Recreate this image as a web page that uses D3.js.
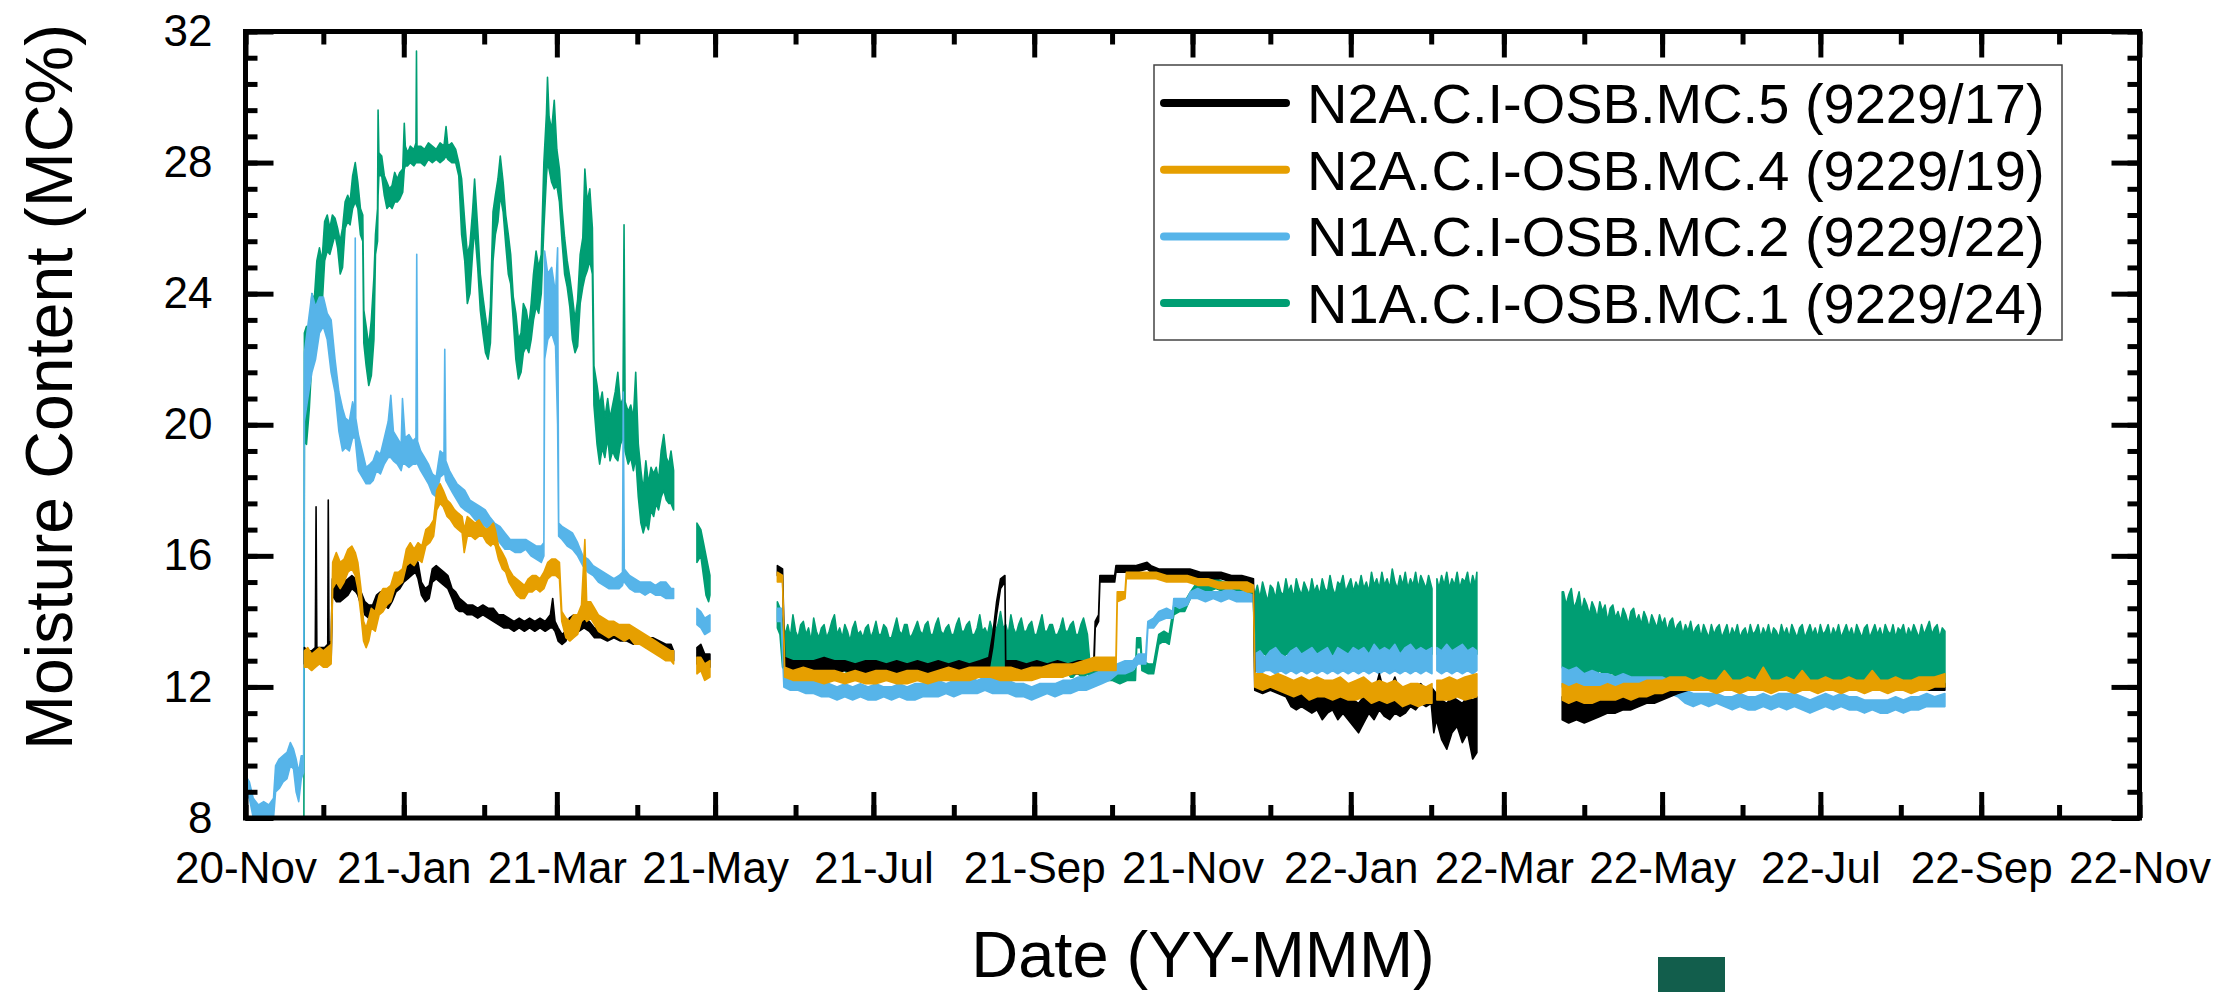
<!DOCTYPE html>
<html>
<head>
<meta charset="utf-8">
<script src="https://cdn.jsdelivr.net/npm/d3@7"></script>
<style>
  body { margin: 0; background: #fff; }
  text { font-family: "Liberation Sans", Arial, sans-serif; fill: #000; }
</style>
</head>
<body>
<svg id="chart" width="2238" height="992"></svg>
<script>
// every row: [days since startDate, low, high] (the min/max band of the logger trace)
// null = gap in the record
var startDate = "2020-11-01";
var endDate = "2022-11-01";

var seriesNames = [
  "N2A.C.I-OSB.MC.5 (9229/17)",
  "N2A.C.I-OSB.MC.4 (9229/19)",
  "N1A.C.I-OSB.MC.2 (9229/22)",
  "N1A.C.I-OSB.MC.1 (9229/24)"
];
var seriesColors = ["#000000", "#E69F00", "#56B4E9", "#009E73"];
var yTicks = [8, 12, 16, 20, 24, 28, 32];

var mc5 = [
  [22.7,12.7,13.2],[24,12.7,13.1],[25.5,12.6,13.1],[26.9,12.7,13.2],[27.2,12.8,17.5],[27.5,12.8,13.2],
  [29,12.7,13.2],[30.5,12.7,13.2],[31.7,12.8,13.3],[31.9,12.8,17.7],[32.2,12.8,13.3],[33,12.8,13.4],
  [33.5,14.8,15.3],[35,14.6,15.2],[36.5,14.6,15.0],[38,14.7,15.2],[39.5,14.8,15.3],[41,15.0,15.4],
  [42.5,14.9,15.3],[43.3,14.8,15.2],[44.5,14.5,14.9],[46,14.2,14.6],[47.5,14.1,14.5],[49,14.1,14.5],
  [50.5,14.3,14.8],[52,14.4,14.9],[53.5,14.5,14.9],[55,14.4,14.8],[56.5,14.6,15.0],[58,14.9,15.4],
  [59.5,15.0,15.5],[61,15.2,15.6],[62.5,15.3,15.7],[64,15.4,15.8],[65.5,15.5,15.9],[66.5,15.3,15.8],
  [67.8,14.8,15.2],[69.3,14.6,15.0],[70.8,14.7,15.1],[72,15.2,15.6],[73.5,15.3,15.7],[75,15.2,15.6],
  [76.5,15.1,15.5],[78,15.0,15.4],[79.6,14.7,15.0],[81,14.4,14.9],[82.5,14.3,14.7],[84,14.3,14.6],
  [85.5,14.2,14.5],[87.5,14.2,14.5],[89.5,14.1,14.4],[91.5,14.2,14.5],[93.5,14.1,14.4],[95.5,14.0,14.4],
  [97.5,13.9,14.2],[99.5,13.8,14.2],[101.5,13.8,14.1],[103.5,13.7,14.0],[105.5,13.8,14.1],[107.5,13.7,14.0],
  [109.5,13.8,14.1],[111.5,13.7,14.0],[113.5,13.8,14.1],[115.5,13.7,14.0],[117.5,13.8,14.2],[118.4,13.8,14.7],
  [119.3,13.7,14.0],[120.5,13.4,13.8],[122,13.3,13.6],[123.5,13.4,13.7],[124.8,13.7,14.1],[126.5,13.8,14.2],
  [128.5,13.7,14.1],[130.5,13.8,14.1],[132.5,13.7,14.0],[134.5,13.5,13.8],[137,13.5,13.8],[139.5,13.4,13.7],
  [142,13.5,13.8],[144.5,13.4,13.7],[147,13.4,13.7],[149.5,13.3,13.7],[152,13.4,13.6],[154.5,13.2,13.5],
  [157,13.1,13.5],[159.5,13.1,13.4],[162,13.0,13.3],[164,12.9,13.3],[165,12.8,13.1],
  null,
  [174,12.7,13.2],[175.5,12.8,13.3],[177,12.6,13.0],[179,12.6,13.0],
  null,
  [205,15.4,15.7],[207,15.3,15.6],[207.8,12.6,12.9],[211,12.5,12.8],[215,12.5,12.8],[219,12.5,12.8],
  [223,12.5,12.9],[227,12.4,12.8],[231,12.5,12.8],[235,12.4,12.7],[239,12.4,12.8],[243,12.5,12.8],
  [247,12.4,12.7],[251,12.4,12.8],[255,12.4,12.7],[259,12.4,12.8],[263,12.4,12.7],[267,12.4,12.8],
  [271,12.4,12.7],[275,12.4,12.8],[279,12.4,12.7],[283,12.5,12.8],[286.5,12.5,12.9],[288,13.2,13.6],
  [289.5,14.2,14.6],[291,15.0,15.3],[292.7,15.2,15.4],[293,12.5,12.8],[297,12.4,12.8],[301,12.4,12.7],
  [305,12.4,12.8],[309,12.4,12.7],[313,12.4,12.8],[317,12.4,12.7],[321,12.4,12.8],[325,12.5,12.8],
  [327,12.5,12.9],[327.5,13.8,14.0],[328.8,14.0,14.2],[329.3,15.2,15.4],[332,15.2,15.4],[335,15.2,15.4],
  [335.5,15.5,15.7],[339,15.5,15.7],[343,15.5,15.7],[347.5,15.6,15.8],[349,15.5,15.7],[352,15.4,15.6],
  [356,15.4,15.6],[360,15.4,15.6],[364,15.4,15.6],[368,15.3,15.5],[372,15.3,15.5],[376,15.3,15.5],
  [380,15.2,15.4],[384,15.2,15.4],[388.5,15.1,15.3],
  [389,11.9,12.3],[392,11.8,12.2],[395,11.9,12.3],[398,11.8,12.2],[401,11.7,12.1],[403,11.4,11.9],
  [405,11.3,11.8],[407,11.4,12.0],[409,11.3,11.9],[411,11.2,11.8],[413,11.3,11.9],[415,11.0,11.8],
  [417,11.2,11.9],[419,11.3,11.8],[421,11.0,11.7],[423,11.2,11.8],[425,11.0,11.7],[427,10.8,11.6],
  [429,10.6,11.5],[431,10.9,11.7],[433,11.2,12.0],[435,11.0,11.8],[437,11.3,12.4],[439,11.1,11.8],
  [441,11.0,11.9],[443,11.2,12.3],[445,11.1,11.8],[447,11.2,12.0],[449,11.4,11.9],[451,11.3,12.0],
  [453,11.5,12.1],[455,11.4,11.9],[457,11.5,12.0],[458,10.6,11.9],[459,11.0,11.8],[461,10.4,11.6],
  [463,10.1,11.5],[465,10.6,11.7],[467,10.8,11.6],[469,10.3,11.5],[471,10.6,11.7],[473,9.8,11.6],
  [474.6,10.0,11.7],
  null,
  [507.5,11.0,11.7],[510,10.9,11.6],[513,11.0,11.7],[516,10.9,11.6],[519,11.0,11.7],[522,11.1,11.7],
  [525,11.2,11.8],[528,11.2,11.7],[531,11.3,11.8],[534,11.3,11.9],[537,11.4,11.9],[540,11.5,11.9],
  [543,11.5,12.0],[546,11.6,12.0],[549,11.7,12.1],[552,11.8,12.1],[556,11.9,12.1],[562,11.9,12.1],
  [568,11.9,12.1],[574,11.9,12.1],[580,11.9,12.1],[586,11.9,12.1],[592,11.9,12.1],[598,11.9,12.1],
  [604,11.9,12.1],[610,11.9,12.1],[616,11.9,12.1],[622,11.9,12.1],[628,11.9,12.1],[634,11.9,12.1],
  [640,11.9,12.1],[646,11.9,12.1],[652,11.9,12.1],[655,11.9,12.1]
];

var mc4 = [
  [22.7,12.6,13.1],[24,12.6,13.2],[25.5,12.5,13.0],[27,12.6,13.1],[28.5,12.7,13.2],[30,12.6,13.1],
  [31.5,12.6,13.2],[33,12.7,13.3],[33.6,15.0,15.8],[35,15.2,16.1],[36.5,15.0,15.8],[38,15.2,15.9],
  [39.5,15.5,16.2],[41,15.6,16.3],[42.3,15.4,16.1],[43.3,15.0,15.8],[44.5,14.2,15.0],[45.5,13.4,14.0],
  [46.5,13.2,13.8],[47.5,13.4,14.1],[48.5,13.8,14.4],[50,13.7,14.3],[51.5,14.2,14.8],[53,14.3,15.0],
  [54.5,14.5,15.0],[56,14.6,15.1],[57.5,15.0,15.5],[59,15.1,15.5],[60.5,15.2,15.6],[62,15.7,16.2],
  [63.5,15.8,16.4],[65,15.7,16.2],[66.5,15.9,16.4],[68,15.8,16.3],[69.5,16.3,16.8],[71,16.4,16.9],
  [72.5,16.6,17.1],[73.7,17.4,18.0],[75,17.6,18.2],[76.2,17.5,18.0],[77.7,17.2,17.7],[79,17.1,17.6],
  [80.6,16.9,17.4],[82,16.8,17.3],[83.5,16.7,17.2],[84.3,16.1,16.8],[85.5,16.6,17.2],[87,16.6,17.1],
  [88.5,16.5,17.0],[90,16.6,17.1],[91.5,16.6,16.9],[93,16.4,16.8],[94.5,16.3,16.9],[95.5,16.4,17.0],
  [96.3,16.3,16.8],[97.5,15.9,16.3],[99,15.6,16.1],[100.3,15.5,15.9],[101.5,15.2,15.6],[103,15.0,15.4],
  [104.5,14.8,15.3],[106,14.7,15.2],[107.5,14.7,15.1],[109,14.9,15.3],[110.5,14.9,15.4],[112,15.0,15.4],
  [113.5,14.9,15.3],[115,15.0,15.5],[116.5,15.3,15.8],[118,15.4,15.9],[119.5,15.4,15.9],[121,15.3,15.8],
  [121.9,14.0,14.3],[123.5,13.5,14.1],[125,13.4,14.0],[126.5,13.5,14.2],[128,13.6,14.2],[129.5,14.0,14.5],
  [130.8,14.1,16.5],[131.5,14.0,14.6],[133,14.1,14.6],[134.5,13.9,14.4],[136,13.7,14.2],[138,13.6,14.1],
  [140,13.5,14.0],[142,13.6,14.0],[144,13.5,13.9],[146,13.4,13.9],[148,13.5,13.9],[150,13.3,13.8],
  [152,13.3,13.7],[154,13.2,13.6],[156,13.1,13.5],[158,13.0,13.4],[160,12.9,13.3],[162,12.8,13.2],
  [164,12.8,13.1],[165,12.7,13.1],
  null,
  [174,12.4,12.9],[175.5,12.5,12.9],[177,12.2,12.7],[179,12.3,12.8],
  null,
  [205,15.2,15.5],[207,15.2,15.4],[207.8,12.3,12.6],[211,12.2,12.5],[215,12.2,12.6],[219,12.2,12.5],
  [223,12.1,12.5],[227,12.2,12.5],[231,12.1,12.4],[235,12.2,12.5],[239,12.1,12.4],[243,12.1,12.5],
  [247,12.2,12.5],[251,12.1,12.4],[255,12.1,12.5],[259,12.2,12.5],[263,12.1,12.4],[267,12.2,12.5],
  [271,12.2,12.6],[275,12.2,12.5],[279,12.2,12.6],[283,12.3,12.6],[287,12.3,12.6],[291,12.2,12.6],
  [295,12.2,12.6],[299,12.2,12.5],[303,12.2,12.6],[307,12.3,12.6],[311,12.3,12.7],[315,12.3,12.7],
  [319,12.4,12.7],[323,12.4,12.8],[327,12.5,12.9],[331,12.5,12.9],[335.5,12.5,12.9],[336,14.6,14.9],
  [339,14.7,14.9],[339.5,15.3,15.5],[343,15.3,15.5],[347,15.3,15.5],[351,15.3,15.5],[355,15.2,15.4],
  [359,15.2,15.4],[363,15.2,15.4],[367,15.1,15.3],[371,15.1,15.3],[375,15.0,15.2],[379,15.0,15.2],
  [383,15.0,15.2],[386,14.9,15.2],[388.5,14.9,15.1],
  [389,12.0,12.4],[392,11.9,12.4],[395,12.0,12.3],[398,11.9,12.4],[401,11.8,12.3],[404,11.7,12.2],
  [407,11.8,12.3],[410,11.6,12.2],[413,11.7,12.3],[416,11.7,12.2],[419,11.6,12.2],[422,11.7,12.3],
  [425,11.6,12.1],[428,11.6,12.2],[431,11.7,12.3],[434,11.5,12.1],[437,11.6,12.2],[440,11.5,12.1],
  [443,11.6,12.2],[446,11.4,12.0],[449,11.5,12.1],[452,11.4,12.1],[455,11.5,12.0],[457.3,11.5,12.1],
  null,
  [459.2,11.6,12.2],[461,11.6,12.2],[464,11.6,12.3],[467,11.7,12.2],[470,11.6,12.3],[474.6,11.7,12.4],
  null,
  [507.5,11.6,12.1],[510,11.5,12.0],[513,11.6,12.1],[516,11.5,12.0],[519,11.5,12.0],[522,11.6,12.0],
  [525,11.6,12.1],[528,11.6,12.0],[531,11.7,12.1],[534,11.6,12.1],[537,11.7,12.1],[540,11.7,12.2],
  [543,11.8,12.2],[546,11.8,12.2],[549,11.9,12.3],[552,11.9,12.3],[555,11.9,12.3],[558,11.9,12.2],
  [561,11.9,12.3],[564,11.9,12.2],[567,11.8,12.2],[570,11.9,12.5],[573,11.9,12.2],[576,11.8,12.2],
  [579,11.9,12.3],[582,11.9,12.2],[585,11.9,12.6],[588,11.8,12.2],[591,11.9,12.2],[594,11.9,12.3],
  [597,11.8,12.2],[600,11.9,12.5],[603,11.9,12.2],[606,11.8,12.2],[609,11.9,12.3],[612,11.9,12.2],
  [615,11.8,12.2],[618,11.9,12.3],[621,11.9,12.2],[624,11.8,12.2],[627,11.9,12.5],[630,11.9,12.2],
  [633,11.8,12.2],[636,11.9,12.3],[639,11.9,12.2],[642,11.8,12.2],[645,11.9,12.3],[648,11.9,12.3],
  [651,12.0,12.3],[655,12.0,12.4]
];

var mc2 = [
  [0,8.7,9.3],[1.5,8.6,9.1],[3,8.0,8.6],[5,8.0,8.4],[7,8.0,8.5],[9,8.0,8.4],[10.8,8.0,8.6],
  [11.6,8.8,9.6],[13,8.9,9.8],[14.5,9.1,9.9],[16,9.2,10.0],[17.3,9.6,10.3],[18.5,9.5,10.1],
  [19.5,8.8,9.8],[20.5,8.5,9.4],[21.5,9.2,9.9],[22.4,9.4,9.9],
  [22.7,20.1,22.2],[24,20.8,23.0],[25.6,21.6,24.0],[27,22.0,23.6],[28.5,22.8,23.9],[30,23.0,23.9],
  [31.5,22.6,23.4],[33,21.6,23.2],[34.5,21.0,22.0],[36,19.8,21.0],[37.4,19.2,20.5],[38.5,19.3,20.2],
  [40,19.2,20.1],[41.3,19.6,20.7],[42.1,19.6,20.4],[42.3,19.6,25.7],[42.5,19.4,20.2],[43.5,18.6,19.7],
  [45,18.4,19.2],[46.5,18.2,18.7],[48,18.2,18.8],[49.2,18.3,18.9],[50.5,18.6,19.2],[52,18.5,19.1],
  [53.5,18.8,19.6],[55,19.0,20.1],[56,19.0,20.9],[57,18.9,19.8],[58.5,18.8,19.6],[60,18.6,19.4],
  [60.5,18.8,20.8],[61.5,18.8,19.6],[63,18.7,19.7],[64.5,18.8,19.5],[65.7,18.8,19.6],[66,18.9,25.2],
  [66.3,18.8,19.5],[67.5,18.6,19.2],[69,18.4,19.0],[70.5,18.2,18.8],[72,17.9,18.5],[73.5,17.8,18.4],
  [75,18.4,19.2],[76.5,18.5,19.1],[76.8,18.5,22.3],[77.2,18.3,18.9],[78.6,18.1,18.6],[80,17.9,18.4],
  [81.5,17.7,18.2],[83,17.5,18.1],[84.5,17.4,18.0],[86.5,17.3,17.7],[88.5,17.1,17.6],[90.5,17.0,17.5],
  [92.4,16.9,17.4],[94,16.8,17.2],[96,16.6,17.0],[98,16.4,16.9],[100,16.2,16.7],[102,16.2,16.5],
  [104,16.1,16.5],[106,16.1,16.5],[108,16.2,16.5],[110,16.0,16.4],[112,15.9,16.3],[114,15.8,16.3],
  [115,16.0,16.4],[115.3,22.0,25.3],[116.5,22.6,24.6],[118,22.8,24.8],[119.5,22.4,24.0],[120.3,20.0,25.4],
  [120.7,16.6,17.0],[122,16.5,16.9],[124,16.3,16.8],[126,16.2,16.7],[128,16.0,16.4],[130,15.7,16.0],
  [132,15.5,15.9],[134,15.4,15.7],[136,15.2,15.6],[138,15.1,15.5],[140,15.0,15.4],[142,15.0,15.3],
  [144,15.0,15.4],[145.3,15.1,15.5],[145.6,15.2,21.0],[146,15.2,15.6],[148,15.0,15.4],[150,14.9,15.3],
  [152,14.9,15.2],[154,14.8,15.2],[156,14.9,15.2],[158,14.8,15.1],[160,14.8,15.2],[162,14.7,15.2],
  [164,14.7,15.0],[165,14.7,15.0],
  null,
  [174,13.9,14.4],[175.5,13.8,14.3],[177,13.6,14.1],[179,13.7,14.2],
  null,
  [205,14.0,14.4],[206.5,14.0,14.4],[207.5,12.0,12.4],[210,11.9,12.3],[213,11.9,12.3],[216,11.8,12.2],
  [219,11.8,12.2],[222,11.7,12.2],[225,11.7,12.1],[228,11.6,12.0],[231,11.7,12.1],[234,11.6,12.0],
  [237,11.7,12.1],[240,11.6,12.0],[243,11.6,12.1],[246,11.7,12.0],[249,11.6,12.0],[252,11.7,12.1],
  [255,11.6,12.0],[258,11.6,12.1],[261,11.7,12.1],[264,11.7,12.1],[267,11.7,12.2],[270,11.8,12.1],
  [273,11.7,12.2],[276,11.8,12.2],[279,11.8,12.3],[282,11.8,12.2],[285,11.9,12.3],[288,11.8,12.3],
  [291,11.8,12.2],[294,11.8,12.2],[297,11.7,12.1],[300,11.7,12.1],[303,11.6,12.0],[306,11.7,12.1],
  [309,11.8,12.1],[312,11.7,12.1],[315,11.8,12.2],[318,11.8,12.2],[321,11.9,12.3],[324,11.9,12.3],
  [327,12.0,12.4],[330,12.1,12.5],[333,12.2,12.6],[336,12.4,12.7],[339,12.4,12.8],[342,12.5,12.8],
  [344,12.7,13.0],[347,12.7,13.0],[347.8,13.8,14.0],[350,13.8,14.1],[352,14.0,14.3],[355,14.1,14.4],
  [357.4,14.1,14.3],[357.8,14.5,14.7],[360,14.4,14.7],[363,14.5,14.7],[364.2,14.7,14.9],[367,14.7,15.0],
  [370,14.6,14.9],[373,14.7,14.9],[376,14.6,14.9],[379,14.7,15.0],[382,14.6,14.9],[385,14.6,14.9],
  [388.5,14.6,14.8],
  [389,12.5,13.0],[391,12.4,13.1],[393,12.5,12.9],[395,12.5,13.1],[397,12.4,13.2],[399,12.5,13.0],
  [401,12.4,12.9],[403,12.5,13.1],[405,12.4,13.2],[407,12.5,13.0],[409,12.4,13.1],[411,12.5,13.2],
  [413,12.4,13.0],[415,12.5,13.1],[417,12.4,13.2],[419,12.5,12.9],[421,12.4,13.2],[423,12.5,13.1],
  [425,12.4,13.0],[427,12.5,13.2],[429,12.4,13.1],[431,12.5,13.2],[433,12.4,13.0],[435,12.5,13.3],
  [437,12.4,13.1],[439,12.5,13.2],[441,12.4,13.1],[443,12.5,13.3],[445,12.4,13.0],[447,12.5,13.2],
  [449,12.4,13.3],[451,12.5,13.1],[453,12.4,13.2],[455,12.5,13.1],[457.3,12.4,13.2],
  null,
  [459.2,12.5,13.2],[461,12.4,13.1],[463,12.5,13.3],[465,12.4,13.1],[467,12.5,13.2],[469,12.4,13.3],
  [471,12.5,13.1],[473,12.4,13.2],[474.6,12.5,13.1],
  null,
  [507.5,12.0,12.6],[510,11.9,12.5],[513,12.0,12.6],[516,11.9,12.4],[519,11.9,12.5],[522,11.8,12.4],
  [525,11.9,12.4],[528,11.8,12.3],[531,11.8,12.4],[534,11.8,12.3],[537,11.9,12.3],[540,11.8,12.3],
  [543,11.9,12.3],[546,11.8,12.3],[549,11.8,12.2],[552,11.7,12.0],[555,11.5,11.9],[558,11.4,11.8],
  [561,11.5,11.8],[564,11.4,11.8],[567,11.5,11.8],[570,11.4,11.7],[573,11.3,11.7],[576,11.4,11.8],
  [579,11.3,11.7],[582,11.3,11.7],[585,11.4,11.8],[588,11.3,11.7],[591,11.4,11.8],[594,11.3,11.8],
  [597,11.4,11.8],[600,11.3,11.7],[603,11.2,11.6],[606,11.3,11.7],[609,11.4,11.8],[612,11.3,11.7],
  [615,11.4,11.8],[618,11.3,11.7],[621,11.3,11.7],[624,11.2,11.6],[627,11.3,11.6],[630,11.2,11.6],
  [633,11.2,11.6],[636,11.3,11.7],[639,11.2,11.6],[642,11.3,11.7],[645,11.3,11.7],[648,11.4,11.8],
  [651,11.4,11.7],[655,11.4,11.8]
];

var mc1 = [
  [22.5,7.5,7.5],[22.7,19.5,22.8],[23.5,19.4,23.0],[24.6,20.5,22.6],[25.6,22.0,24.0],[26.5,22.4,23.8],
  [27.5,22.8,25.0],[28.5,23.2,25.4],[29.5,23.6,25.0],[30.5,25.0,26.2],[31.5,25.3,26.4],[32.5,25.2,26.0],
  [33.5,25.5,26.4],[34.5,25.8,26.3],[35.5,25.4,26.0],[36.5,24.6,25.6],[37.4,24.8,26.0],[38.4,26.0,26.8],
  [39.4,26.2,27.0],[40.3,26.1,26.8],[41.3,26.6,27.6],[42.3,26.8,28.0],[43.3,26.6,27.4],[44.3,25.8,26.6],
  [45.2,25.6,26.4],[45.6,22.5,23.5],[46.5,21.8,23.0],[47.5,21.2,22.4],[48.5,21.5,23.2],[49.5,22.6,24.5],
  [50.1,25.2,25.8],[50.9,25.6,26.6],[51.1,27.0,29.6],[51.4,27.6,28.3],[52.5,27.6,28.2],[53.5,27.0,27.6],
  [54.5,26.6,27.4],[55.5,26.7,27.2],[56.5,26.6,27.3],[57.5,26.8,27.7],[58.5,26.8,27.5],[59.5,26.9,27.7],
  [60.6,27.1,27.8],[61.2,27.8,29.2],[61.6,27.9,28.5],[62.5,27.9,28.3],[63.5,28.0,28.5],[64.9,27.9,28.4],
  [65.7,28.0,28.6],[65.9,28.0,31.4],[66.1,28.0,28.5],[67.5,28.0,28.5],[69,27.9,28.4],[70.5,28.1,28.6],
  [72,28.0,28.5],[73.5,28.1,28.4],[75,28.0,28.6],[76.5,28.1,28.5],[77.3,28.2,29.1],[78,28.1,28.5],
  [79.5,28.0,28.6],[81,28.0,28.4],[82.2,27.6,28.0],[83.3,25.8,27.5],[84.5,25.0,26.2],[85.5,23.7,25.2],
  [86.5,24.0,25.5],[87.5,25.2,26.5],[88.3,26.0,27.5],[89.5,24.8,26.0],[90.5,23.5,24.6],[91.5,22.8,23.9],
  [92.5,22.2,23.3],[93.5,22.0,22.8],[94.4,22.5,23.6],[95.4,25.0,26.5],[96.3,25.8,27.0],[97.3,26.2,27.5],
  [98.2,27.0,28.2],[99.3,26.5,27.4],[100.3,25.5,26.4],[101.3,24.6,25.8],[102.2,24.3,25.2],[103.2,23.2,23.9],
  [104.2,22.0,23.4],[105.2,21.4,22.6],[106.2,21.6,22.8],[107.1,22.2,23.7],[108.2,22.4,23.5],[109.2,22.2,23.0],
  [110.1,22.6,23.7],[111,23.2,24.6],[112,23.6,25.3],[113,23.4,24.8],[114,24.0,25.2],[115,26.0,28.0],
  [116,27.6,29.5],[116.4,28.0,30.6],[117,27.8,29.4],[118,27.4,29.0],[119,27.2,29.9],[120,27.3,28.4],
  [121,26.8,27.8],[122,25.6,26.6],[123,24.6,25.7],[124,24.2,25.0],[125,23.6,24.5],[126,22.6,23.9],
  [127,22.2,23.2],[128,22.4,23.8],[129,23.7,25.2],[130,24.2,25.7],[130.8,24.5,27.8],[131.7,24.7,26.8],
  [132.7,25.0,27.2],[133.7,24.6,26.0],[134.3,20.6,21.8],[135.5,19.4,21.2],[136.5,18.8,20.6],[137.5,19.3,21.0],
  [138.5,19.0,20.2],[139.6,19.6,20.8],[140.5,18.9,20.2],[141.5,19.2,20.6],[142.5,19.0,21.0],[143.5,18.9,21.6],
  [144.5,19.4,20.6],[145.5,19.6,20.8],[145.9,19.6,26.1],[146.3,19.2,20.7],[147.5,18.8,20.4],[148.5,19.0,20.6],
  [149.5,18.6,20.2],[150.4,19.0,21.6],[151.4,17.8,19.4],[152.4,17.0,18.6],[153.3,16.7,18.0],[154.3,17.0,18.9],
  [155.3,16.8,18.2],[156.3,17.4,18.7],[157.3,17.2,18.5],[158.3,17.6,18.7],[159.2,17.4,18.3],[160.2,17.8,19.2],
  [161.2,18.0,19.7],[162.2,17.7,19.0],[163.2,17.6,18.8],[164,17.6,19.2],[165,17.4,18.6],
  null,
  [174,15.8,17.0],[175.5,16.0,16.8],[176.5,15.4,16.4],[177.5,14.8,16.0],[178.5,14.6,15.6],[179,14.8,15.4],
  null,
  [205,13.8,14.6],[206,13.6,14.4],
  [207,12.6,14.0],[208,12.5,13.6],[209,12.5,13.9],[210,12.4,13.5],[211,12.4,14.2],[212,12.5,13.7],
  [213,12.6,13.5],[214,12.5,13.9],[215,12.5,14.0],[216,12.4,13.6],[217,12.4,13.8],[218,12.5,13.4],
  [219,12.5,14.1],[220,12.5,13.7],[221,12.6,13.5],[222,12.4,13.8],[223,12.4,13.9],[224,12.5,13.5],
  [225,12.5,13.7],[226,12.4,14.0],[227,12.5,14.2],[228,12.5,13.6],[229,12.4,13.8],[230,12.5,13.5],
  [231,12.5,13.9],[232,12.4,13.7],[233,12.6,13.4],[234,12.5,13.8],[235,12.4,14.0],[236,12.5,13.6],
  [237,12.5,13.7],[238,12.4,13.5],[239,12.4,13.8],[240,12.5,13.9],[241,12.5,13.5],[242,12.4,13.7],
  [243,12.5,14.0],[244,12.5,13.6],[245,12.4,13.6],[246,12.5,13.9],[247,12.5,13.8],[248,12.4,13.5],
  [249,12.4,13.5],[250,12.5,13.8],[251,12.5,14.1],[252,12.4,13.7],[253,12.4,13.6],[254,12.5,13.9],
  [255,12.5,13.9],[256,12.4,13.5],[257,12.4,13.6],[258,12.5,13.8],[259,12.5,14.0],[260,12.4,13.7],
  [261,12.4,13.6],[262,12.5,13.9],[263,12.5,14.0],[264,12.4,13.6],[265,12.4,13.6],[266,12.5,13.9],
  [267,12.5,14.1],[268,12.4,13.7],[269,12.4,13.6],[270,12.5,13.8],[271,12.5,13.9],[272,12.4,13.6],
  [273,12.4,13.6],[274,12.5,13.9],[275,12.5,14.1],[276,12.4,13.7],[277,12.5,13.7],[278,12.4,13.9],
  [279,12.4,14.0],[280,12.5,13.6],[281,12.5,13.6],[282,12.4,13.8],[283,12.4,14.2],[284,12.5,13.7],
  [285,12.5,13.8],[286,12.4,13.6],[287,12.4,14.0],[288,12.5,13.7],[289,12.5,13.7],[290,12.4,13.9],
  [291,12.4,14.3],[292,12.5,13.8],[293,12.5,13.9],[294,12.3,13.6],[295,12.3,14.2],[296,12.4,13.8],
  [297,12.4,13.6],[298,12.3,13.9],[299,12.3,14.1],[300,12.4,13.7],[301,12.4,13.7],[302,12.3,13.9],
  [303,12.3,14.0],[304,12.4,13.6],[305,12.4,13.6],[306,12.3,13.9],[307,12.3,14.2],[308,12.4,13.7],
  [309,12.4,13.7],[310,12.3,13.9],[311,12.3,13.9],[312,12.4,13.6],[313,12.4,13.6],[314,12.3,13.8],
  [315,12.3,14.1],[316,12.4,13.7],[317,12.4,13.7],[318,12.3,13.9],[319,12.3,14.0],[320,12.4,13.6],
  [321,12.4,13.6],[322,12.3,13.9],[323,12.3,14.1],[324.5,12.4,13.6],
  [325.5,12.3,12.7],[328,12.3,12.6],[331,12.2,12.5],[334,12.2,12.5],
  [337,12.1,12.4],[340,12.2,12.5],[343,12.2,12.5],[343.5,13.2,13.5],[345,13.2,13.5],[345.5,12.5,12.8],
  [348,12.4,12.7],[350,12.4,12.7],[352,13.3,13.6],[354,13.4,13.7],[356,13.3,13.6],[357.8,14.2,14.5],
  [360,14.3,14.6],[362,14.3,14.6],[364.2,14.7,14.9],[366,14.8,15.1],[368,14.9,15.2],[371,14.9,15.2],
  [374,15.0,15.3],[377,14.9,15.2],[380,14.9,15.2],[383,14.8,15.1],[386,14.8,15.1],[388.5,14.7,15.0],
  [389,12.9,14.8],[390,13.0,15.1],[391,12.9,14.7],[392,13.0,15.2],[393,13.0,14.9],[394,12.9,14.6],
  [395,13.0,15.1],[396,13.0,15.0],[397,12.9,14.7],[398,13.0,15.2],[399,13.0,14.9],[400,12.9,14.8],
  [401,13.0,15.3],[402,13.0,14.9],[403,12.9,15.1],[404,13.0,14.7],[405,13.0,15.3],[406,12.9,15.0],
  [407,13.0,14.8],[408,13.0,15.2],[409,12.9,15.0],[410,13.0,14.8],[411,13.0,15.3],[412,12.9,14.9],
  [413,13.0,15.1],[414,13.0,14.8],[415,12.9,15.3],[416,13.0,15.0],[417,13.0,14.9],[418,12.9,15.4],
  [419,13.0,15.0],[420,13.0,14.8],[421,12.9,15.2],[422,13.0,15.1],[423,13.0,15.4],[424,12.9,14.9],
  [425,13.0,15.1],[426,13.0,15.3],[427,12.9,14.9],[428,13.0,15.2],[429,13.0,15.0],[430,12.9,15.4],
  [431,13.0,15.0],[432,13.0,15.2],[433,13.0,14.9],[434,13.1,15.5],[435,13.0,15.1],[436,13.1,15.3],
  [437,13.0,15.0],[438,13.1,15.5],[439,13.0,15.1],[440,13.1,15.3],[441,13.0,15.0],[442,13.1,15.6],
  [443,13.0,15.2],[444,13.1,15.0],[445,13.0,15.4],[446,13.1,15.1],[447,13.0,15.5],[448,13.1,15.0],
  [449,13.0,15.3],[450,13.1,15.1],[451,13.0,15.5],[452,13.1,15.0],[453,13.0,15.4],[454,13.1,15.2],
  [455,13.0,15.0],[456,13.1,15.4],[457.3,13.0,15.0],
  null,
  [459.2,13.0,15.3],[460,13.1,15.0],[461,13.0,15.4],[462,13.1,15.1],[463,13.0,15.5],[464,13.1,15.0],
  [465,13.0,15.3],[466,13.1,15.1],[467,13.0,15.5],[468,13.1,15.0],[469,13.0,15.3],[470,13.1,15.2],
  [471,13.0,15.5],[472,13.1,15.0],[473,13.0,15.4],[474,13.1,15.1],[474.6,13.0,15.5],
  null,
  [507.5,12.6,14.9],[508,12.5,14.9],[509,12.5,14.5],[510,12.4,14.8],[511,12.5,15.0],[512,12.4,14.4],
  [513,12.5,14.6],[514,12.4,14.9],[515,12.5,14.3],[516,12.4,14.7],[517,12.5,14.5],[518,12.4,14.2],
  [519,12.5,14.6],[520,12.4,14.4],[521,12.4,14.1],[522,12.5,14.6],[523,12.4,14.3],[524,12.4,14.5],
  [525,12.3,14.0],[526,12.4,14.4],[527,12.4,14.5],[528,12.3,14.1],[529,12.4,14.3],[530,12.3,14.0],
  [531,12.3,14.4],[532,12.2,14.2],[533,12.3,13.9],[534,12.3,14.3],[535,12.2,14.4],[536,12.3,14.0],
  [537,12.2,14.2],[538,12.3,13.9],[539,12.2,14.3],[540,12.2,14.1],[541,12.3,13.8],[542,12.2,14.2],
  [543,12.2,14.0],[544,12.1,13.8],[545,12.2,14.2],[546,12.1,13.9],[547,12.2,14.1],[548,12.1,13.7],
  [549,12.1,14.0],[550,12.2,14.1],[551,12.1,13.7],[552,12.1,13.9],[553,12.0,14.0],[554,12.1,13.6],
  [555,12.0,13.9],[556,12.1,13.7],[557,12.0,14.0],[558,12.0,13.6],[559,12.1,13.8],[560,12.0,13.9],
  [561,11.9,13.5],[562,12.0,13.9],[563,12.0,13.7],[564,11.9,13.5],[565,12.0,13.9],[566,12.0,13.6],
  [567,11.9,13.8],[568,12.0,13.9],[569,11.9,13.5],[570,12.0,13.7],[571,12.0,13.9],[572,11.9,13.5],
  [573,12.0,13.8],[574,11.9,13.6],[575,12.0,13.9],[576,12.0,13.5],[577,11.9,13.7],[578,12.0,13.8],
  [579,11.9,13.5],[580,12.0,13.9],[581,12.0,13.6],[582,11.9,13.7],[583,12.0,13.9],[584,11.9,13.5],
  [585,12.0,13.8],[586,12.0,13.6],[587,11.9,13.9],[588,12.0,13.5],[589,11.9,13.8],[590,12.0,13.7],
  [591,12.0,13.5],[592,11.9,13.9],[593,12.0,13.6],[594,11.9,13.8],[595,12.0,13.5],[596,12.0,13.9],
  [597,11.9,13.7],[598,12.0,13.5],[599,11.9,13.8],[600,12.0,13.9],[601,12.0,13.5],[602,11.9,13.7],
  [603,12.0,13.9],[604,11.9,13.6],[605,12.0,13.8],[606,12.0,13.5],[607,11.9,13.9],[608,12.0,13.6],
  [609,11.9,13.7],[610,12.0,13.9],[611,12.0,13.5],[612,11.9,13.8],[613,12.0,13.6],[614,11.9,13.9],
  [615,12.0,13.5],[616,12.0,13.7],[617,11.9,13.9],[618,12.0,13.6],[619,11.9,13.8],[620,12.0,13.5],
  [621,12.0,13.9],[622,11.9,13.7],[623,12.0,13.5],[624,11.9,13.8],[625,12.0,13.9],[626,12.0,13.5],
  [627,11.9,13.7],[628,12.0,13.9],[629,11.9,13.6],[630,12.0,13.8],[631,12.0,13.5],[632,11.9,13.9],
  [633,12.0,13.7],[634,11.9,13.6],[635,12.0,13.9],[636,12.0,13.5],[637,11.9,13.8],[638,12.0,13.7],
  [639,11.9,13.9],[640,12.0,13.5],[641,12.0,13.8],[642,11.9,13.6],[643,12.0,13.9],[644,11.9,13.7],
  [645,12.0,13.5],[646,12.0,13.9],[647,11.9,13.6],[648,12.0,13.8],[649,11.9,14.0],[650,12.0,13.6],
  [651,12.0,13.8],[652,11.9,13.9],[653,12.0,13.5],[654,11.9,13.8],[655,12.0,13.7]
];

var seriesData = [mc5, mc4, mc2, mc1];

var svg = d3.select("#chart");

var plotLeft = 245.5, plotRight = 2139.5, plotTop = 31.5, plotBottom = 818;
var parse = d3.timeParse("%Y-%m-%d");
var t0 = parse(startDate);
var t1 = parse(endDate);

var x = d3.scaleTime().domain([t0, t1]).range([plotLeft, plotRight]);
var y = d3.scaleLinear().domain([8, 32]).range([plotBottom, plotTop]);

var dayToDate = function(d) { return new Date(t0.getTime() + d * 864e5); };

svg.append("defs").append("clipPath").attr("id", "plotclip")
  .append("rect").attr("x", plotLeft).attr("y", plotTop)
  .attr("width", plotRight - plotLeft).attr("height", plotBottom - plotTop);

// traces, green first so black / orange end up on top
var area = d3.area()
  .defined(function(d) { return d !== null; })
  .x(function(d) { return x(dayToDate(d[0])); })
  .y0(function(d) { return y(d[1]); })
  .y1(function(d) { return y(d[2]); });

var drawOrder = [3, 2, 0, 1];
var traces = svg.append("g").attr("clip-path", "url(#plotclip)");
drawOrder.forEach(function(i) {
  traces.append("path")
    .datum(seriesData[i])
    .attr("d", area)
    .attr("fill", seriesColors[i])
    .attr("stroke", seriesColors[i])
    .attr("stroke-width", 1.6)
    .attr("stroke-linejoin", "round");
});

// axes: ticks point inwards on all four sides
var majorX = d3.timeMonth.every(2).range(t0, d3.timeDay.offset(t1, 1));
var minorX = d3.timeMonth.every(1).range(t0, d3.timeDay.offset(t1, 1));
var minorY = d3.range(8, 32.01, 0.8);

var fmt = d3.timeFormat("%y-%b");

function styleAxis(g) {
  g.select(".domain").remove();
  g.selectAll(".tick line").attr("stroke", "#000").attr("stroke-width", 5);
  g.selectAll(".tick text").attr("font-family", null).attr("font-size", 44).attr("fill", "#000");
}

svg.append("g").attr("transform", "translate(0," + plotBottom + ")")
  .call(d3.axisBottom(x).tickValues(minorX).tickSize(-13).tickFormat(""))
  .call(styleAxis);
svg.append("g").attr("transform", "translate(0," + plotBottom + ")")
  .call(d3.axisBottom(x).tickValues(majorX).tickSize(-26).tickPadding(34).tickFormat(fmt))
  .call(styleAxis);

svg.append("g").attr("transform", "translate(0," + plotTop + ")")
  .call(d3.axisTop(x).tickValues(minorX).tickSize(-13).tickFormat(""))
  .call(styleAxis);
svg.append("g").attr("transform", "translate(0," + plotTop + ")")
  .call(d3.axisTop(x).tickValues(majorX).tickSize(-26).tickFormat(""))
  .call(styleAxis);

svg.append("g").attr("transform", "translate(" + plotLeft + ",0)")
  .call(d3.axisLeft(y).tickValues(minorY).tickSize(-12).tickFormat(""))
  .call(styleAxis);
svg.append("g").attr("transform", "translate(" + plotLeft + ",0)")
  .call(d3.axisLeft(y).tickValues(yTicks).tickSize(-28).tickPadding(33).tickFormat(d3.format("d")))
  .call(styleAxis);

svg.append("g").attr("transform", "translate(" + plotRight + ",0)")
  .call(d3.axisRight(y).tickValues(minorY).tickSize(-12).tickFormat(""))
  .call(styleAxis);
svg.append("g").attr("transform", "translate(" + plotRight + ",0)")
  .call(d3.axisRight(y).tickValues(yTicks).tickSize(-28).tickFormat(""))
  .call(styleAxis);

// frame
svg.append("rect")
  .attr("x", plotLeft).attr("y", plotTop)
  .attr("width", plotRight - plotLeft).attr("height", plotBottom - plotTop)
  .attr("fill", "none").attr("stroke", "#000").attr("stroke-width", 5);

// axis titles
svg.append("text")
  .attr("transform", "translate(72,387) rotate(-90)")
  .attr("text-anchor", "middle")
  .attr("font-size", 66)
  .text("Moisture Content (MC%)");

svg.append("text")
  .attr("x", 1203).attr("y", 977)
  .attr("text-anchor", "middle")
  .attr("font-size", 65)
  .text("Date (YY-MMM)");

// legend
var legend = svg.append("g");
legend.append("rect")
  .attr("x", 1154).attr("y", 65).attr("width", 908).attr("height", 275)
  .attr("fill", "#fff").attr("stroke", "#444").attr("stroke-width", 1.5);

var rows = legend.selectAll("g.row").data(seriesNames).enter().append("g")
  .attr("transform", function(d, i) { return "translate(0," + (103 + i * 66.7) + ")"; });
rows.append("line")
  .attr("x1", 1164).attr("x2", 1286)
  .attr("stroke", function(d, i) { return seriesColors[i]; })
  .attr("stroke-width", 8).attr("stroke-linecap", "round");
rows.append("text")
  .attr("x", 1307).attr("y", 20)
  .attr("font-size", 56)
  .text(function(d) { return d; });

// stray dark square below the axis in the original figure
svg.append("rect")
  .attr("x", 1658).attr("y", 957).attr("width", 67).attr("height", 40)
  .attr("fill", "#125E4C");
</script>
</body>
</html>
